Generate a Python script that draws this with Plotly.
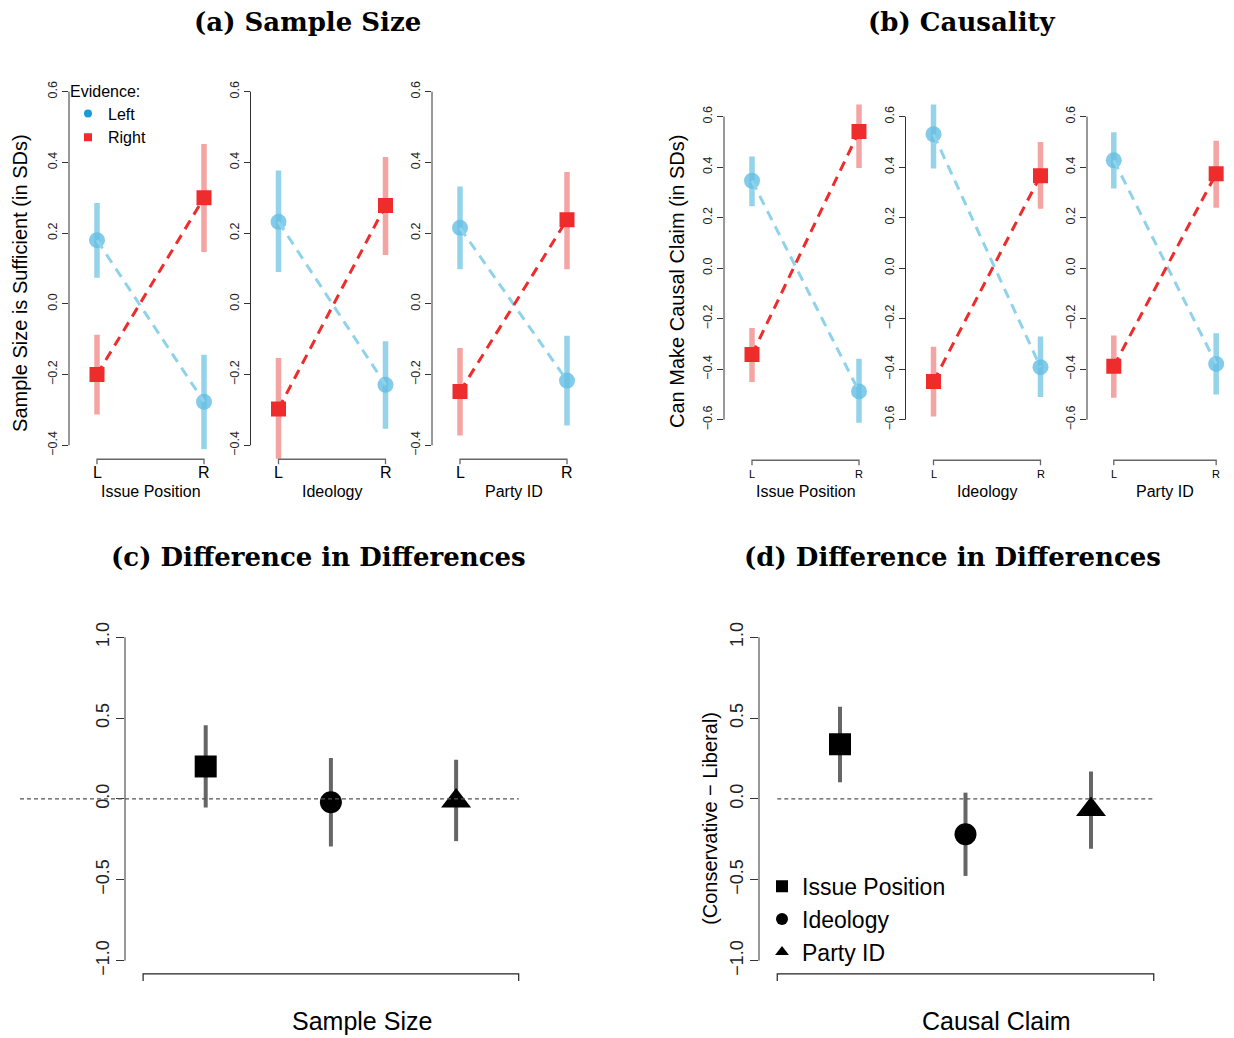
import plotly.graph_objects as go

W, H = 1234, 1038
OFF = 8  # the page places the figure 8px from the top-left corner
FONT = "Liberation Sans, Arial, Helvetica, sans-serif"
SERIF = "DejaVu Serif, serif"

# ---------------- data ----------------
measures = ["Issue Position", "Ideology", "Party ID"]
side_labels = ["L", "R"]
side_pos = [1, 2]

# (a) Sample size is sufficient  -- [L, R] per measure
ss_left_est = [[0.180, -0.277], [0.232, -0.229], [0.215, -0.217]]
ss_left_lo = [[0.074, -0.411], [0.090, -0.353], [0.098, -0.344]]
ss_left_hi = [[0.285, -0.144], [0.377, -0.106], [0.332, -0.090]]
ss_right_est = [[-0.200, 0.300], [-0.297, 0.278], [-0.248, 0.238]]
ss_right_lo = [[-0.313, 0.147], [-0.438, 0.138], [-0.372, 0.098]]
ss_right_hi = [[-0.087, 0.452], [-0.153, 0.415], [-0.125, 0.373]]

# (b) Can make causal claim
cc_left_est = [[0.346, -0.488], [0.530, -0.392], [0.427, -0.379]]
cc_left_lo = [[0.245, -0.612], [0.394, -0.510], [0.315, -0.500]]
cc_left_hi = [[0.442, -0.359], [0.662, -0.271], [0.538, -0.258]]
cc_right_est = [[-0.342, 0.541], [-0.449, 0.366], [-0.388, 0.374]]
cc_right_lo = [[-0.451, 0.396], [-0.587, 0.235], [-0.513, 0.239]]
cc_right_hi = [[-0.237, 0.683], [-0.311, 0.499], [-0.267, 0.504]]

# (c), (d) difference in differences, one value per measure
dd_pos = [1, 2, 3]
dd_ss_est = [0.201, -0.021, -0.012]
dd_ss_lo = [-0.053, -0.294, -0.261]
dd_ss_hi = [0.456, 0.253, 0.242]
dd_cc_est = [0.339, -0.218, -0.066]
dd_cc_lo = [0.103, -0.476, -0.308]
dd_cc_hi = [0.571, 0.039, 0.170]

ticks_a = [-0.4, -0.2, 0.0, 0.2, 0.4, 0.6]
ticks_b = [-0.6, -0.4, -0.2, 0.0, 0.2, 0.4, 0.6]
ticks_dd = [-1.0, -0.5, 0.0, 0.5, 1.0]

# ---------------- styles ----------------
BLUE_CI = "#95D3EA"
BLUE_PT = "rgba(100,190,226,0.8)"
BLUE_LN = "#8FD3EB"
RED_CI = "#F5A4A4"
RED_PT = "#EE2C2C"
RED_LN = "#EE2C2C"
GREY_CI = "#666666"
AXIS_C = "#333333"


def pv(p, v1, p1, v2, p2):
    return v1 + (p - p1) * (v2 - v1) / (p2 - p1)


def pxp(p):
    return min(max((p - OFF) / W, 0.0), 1.0)


def py(p):
    return min(max(1 - (p - OFF) / H, 0.0), 1.0)


def xd(l, r):
    return [pxp(l), pxp(r)]


def yd(t, b):
    return [py(b), py(t)]


fig = go.Figure()
layout = dict(
    width=W, height=H, margin=dict(l=0, r=0, t=0, b=0),
    paper_bgcolor="white", plot_bgcolor="white",
    font=dict(family=FONT, color="black"), showlegend=True,
)
shapes = []
annotations = []


def names(k):
    s = "" if k == 1 else str(k)
    return "x" + s, "y" + s, "xaxis" + s, "yaxis" + s


top_panels = [
    dict(data=(ss_left_est, ss_left_lo, ss_left_hi, ss_right_est, ss_right_lo, ss_right_hi),
         axes_px=[69, 250.5, 432], top=76, bot=459, hi=(0.6, 90), lo=(-0.4, 445),
         ticks=ticks_a, brk=459, lab_y=472, lab_size=16, title_y=491),
    dict(data=(cc_left_est, cc_left_lo, cc_left_hi, cc_right_est, cc_right_lo, cc_right_hi),
         axes_px=[724, 905.5, 1087], top=102.8, bot=460, hi=(0.6, 115), lo=(-0.6, 419.3),
         ticks=ticks_b, brk=460, lab_y=473.5, lab_size=11, title_y=491),
]

k = 0
for pan in top_panels:
    le, ll, lh, re_, rl, rh = pan["data"]
    for i in range(3):
        k += 1
        xn, yn, xa, ya = names(k)
        ax = pan["axes_px"][i]
        pL, pR = ax + 28, ax + 135
        right = ax + 162
        xr = [pv(ax, 1, pL, 2, pR), pv(right, 1, pL, 2, pR)]
        (vh, ph), (vl, pl) = pan["hi"], pan["lo"]
        yr = [pv(pan["bot"], vh, ph, vl, pl), pv(pan["top"], vh, ph, vl, pl)]
        layout[xa] = dict(domain=xd(ax, right), range=xr, anchor=yn, showgrid=False,
                          zeroline=False, showline=False, showticklabels=False, ticks="",
                          fixedrange=True)
        layout[ya] = dict(domain=yd(pan["top"], pan["bot"]), range=yr, anchor=xn,
                          tickvals=pan["ticks"], tickformat=".1f", tickangle=-90,
                          ticks="outside", ticklen=6, tickwidth=1, tickcolor=AXIS_C,
                          tickfont=dict(size=12.5, color="#222"), showgrid=False,
                          zeroline=False, showline=False, fixedrange=True)
        # y axis line (tick range only)
        shapes.append(dict(type="line", xref="paper", yref=yn, x0=pxp(ax), x1=pxp(ax),
                           y0=min(pan["ticks"]), y1=max(pan["ticks"]),
                           line=dict(color=AXIS_C, width=1)))
        # x bracket
        yb, yb2 = py(pan["brk"]), py(pan["brk"] + 5)
        shapes.append(dict(type="path", xref=xn, yref="paper",
                           path=f"M {side_pos[0]},{yb2} L {side_pos[0]},{yb} L {side_pos[1]},{yb} L {side_pos[1]},{yb2}",
                           line=dict(color="#666666", width=1.3)))
        for sp, sl in zip(side_pos, side_labels):
            annotations.append(dict(xref=xn, yref="paper", x=sp, y=py(pan["lab_y"]), text=sl,
                                    showarrow=False, font=dict(size=pan["lab_size"]),
                                    xanchor="center", yanchor="middle"))
        annotations.append(dict(xref=xn, yref="paper", x=sum(side_pos) / 2, y=py(pan["title_y"]),
                                text=measures[i], showarrow=False, font=dict(size=16),
                                xanchor="center", yanchor="middle"))
        # CIs
        for lo_, hi_, col in [(ll, lh, BLUE_CI), (rl, rh, RED_CI)]:
            fig.add_trace(go.Scatter(
                x=[side_pos[0], side_pos[0], None, side_pos[1], side_pos[1]],
                y=[lo_[i][0], hi_[i][0], None, lo_[i][1], hi_[i][1]],
                mode="lines", line=dict(color=col, width=5.5), xaxis=xn, yaxis=yn,
                showlegend=False, hoverinfo="skip"))
        fig.add_trace(go.Scatter(x=side_pos, y=le[i], mode="markers",
                                 marker=dict(symbol="circle", size=16, color=BLUE_PT),
                                 xaxis=xn, yaxis=yn, showlegend=False, hoverinfo="skip"))
        fig.add_trace(go.Scatter(x=side_pos, y=re_[i], mode="markers",
                                 marker=dict(symbol="square", size=15, color=RED_PT),
                                 xaxis=xn, yaxis=yn, showlegend=False, hoverinfo="skip"))
        fig.add_trace(go.Scatter(x=side_pos, y=le[i], mode="lines",
                                 line=dict(color=BLUE_LN, width=3, dash="10px,7px"),
                                 xaxis=xn, yaxis=yn, showlegend=False, hoverinfo="skip"))
        fig.add_trace(go.Scatter(x=side_pos, y=re_[i], mode="lines",
                                 line=dict(color=RED_LN, width=3, dash="10px,7px"),
                                 xaxis=xn, yaxis=yn, showlegend=False, hoverinfo="skip"))

# legend entries for (a)
fig.add_trace(go.Scatter(x=[None], y=[None], mode="markers", name="Left",
                         marker=dict(symbol="circle", size=8, color="#1A9BD7"),
                         xaxis="x", yaxis="y", legend="legend"))
fig.add_trace(go.Scatter(x=[None], y=[None], mode="markers", name="Right",
                         marker=dict(symbol="square", size=8, color="#EE2C2C"),
                         xaxis="x", yaxis="y", legend="legend"))

# ---------------- bottom panels ----------------
bottom_panels = [
    dict(est=dd_ss_est, lo=dd_ss_lo, hi=dd_ss_hi, ax=125, p1=205.7, p2=330.9,
         xtitle="Sample Size", xt_x=362, dot=(20, 518.8), legend=False),
    dict(est=dd_cc_est, lo=dd_cc_lo, hi=dd_cc_hi, ax=759, p1=840, p2=965.5,
         xtitle="Causal Claim", xt_x=996, dot=(777.3, 1153), legend=True),
]
symbols = ["square", "circle", "triangle-up"]
sym_sizes = [22, 22, 26]
for pan in bottom_panels:
    k += 1
    xn, yn, xa, ya = names(k)
    ax = pan["ax"]
    right = pan["p1"] + 2.62 * (pan["p2"] - pan["p1"])
    xr = [pv(ax, 1, pan["p1"], 2, pan["p2"]), pv(right, 1, pan["p1"], 2, pan["p2"])]
    top, bot = 624.7, 975.7
    yr = [pv(bot, 1.0, 637.7, -1.0, 962.3), pv(top, 1.0, 637.7, -1.0, 962.3)]
    layout[xa] = dict(domain=xd(ax, right), range=xr, anchor=yn, showgrid=False,
                      zeroline=False, showline=False, showticklabels=False, ticks="",
                      fixedrange=True)
    layout[ya] = dict(domain=yd(top, bot), range=yr, anchor=xn, tickvals=ticks_dd,
                      tickformat=".1f", tickangle=-90, ticks="outside", ticklen=8,
                      tickwidth=1, tickcolor=AXIS_C, tickfont=dict(size=18, color="#222"),
                      showgrid=False, zeroline=False, showline=False, fixedrange=True)
    shapes.append(dict(type="line", xref="paper", yref=yn, x0=pxp(ax), x1=pxp(ax),
                       y0=min(ticks_dd), y1=max(ticks_dd), line=dict(color=AXIS_C, width=1)))
    yb, yb2 = py(975.7), py(982.7)
    x_lo, x_hi = dd_pos[0] - 0.5, dd_pos[-1] + 0.5
    shapes.append(dict(type="path", xref=xn, yref="paper",
                       path=f"M {x_lo},{yb2} L {x_lo},{yb} L {x_hi},{yb} L {x_hi},{yb2}",
                       line=dict(color="#222222", width=1.2)))
    # dotted zero line
    shapes.append(dict(type="line", xref="paper", yref=yn, x0=pxp(pan["dot"][0]),
                       x1=pxp(pan["dot"][1]), y0=0, y1=0,
                       line=dict(color="#555555", width=1.3, dash="4px,3px")))
    annotations.append(dict(xref="paper", yref="paper", x=pxp(pan["xt_x"]), y=py(1023),
                            text=pan["xtitle"], showarrow=False, font=dict(size=25),
                            xanchor="center", yanchor="middle"))
    # CIs
    xs, ys = [], []
    for j in range(3):
        xs += [dd_pos[j], dd_pos[j], None]
        ys += [pan["lo"][j], pan["hi"][j], None]
    fig.add_trace(go.Scatter(x=xs, y=ys, mode="lines", line=dict(color=GREY_CI, width=4),
                             xaxis=xn, yaxis=yn, showlegend=False, hoverinfo="skip"))
    for j in range(3):
        fig.add_trace(go.Scatter(x=[dd_pos[j]], y=[pan["est"][j]], mode="markers",
                                 name=measures[j],
                                 marker=dict(symbol=symbols[j], size=sym_sizes[j], color="black"),
                                 xaxis=xn, yaxis=yn, showlegend=pan["legend"],
                                 legend="legend2", hoverinfo="skip"))

layout["legend"] = dict(x=pxp(68), y=py(74), xanchor="left", yanchor="top",
                        title=dict(text="Evidence:", font=dict(size=16)),
                        font=dict(size=16), itemsizing="trace", bgcolor="rgba(0,0,0,0)",
                        borderwidth=0, tracegroupgap=0)
layout["legend2"] = dict(x=pxp(762), y=py(866), xanchor="left", yanchor="top",
                         font=dict(size=23), itemsizing="constant",
                         bgcolor="rgba(0,0,0,0)", borderwidth=0, tracegroupgap=0)

# titles
for txt, cx, cy in [("(a) Sample Size", 307, 20), ("(b) Causality", 962, 20),
                    ("(c) Difference in Differences", 318, 557),
                    ("(d) Difference in Differences", 952, 557)]:
    annotations.append(dict(xref="paper", yref="paper", x=pxp(cx), y=py(cy), text=f"<b>{txt}</b>",
                            showarrow=False, font=dict(family=SERIF, size=26),
                            xanchor="center", yanchor="middle"))

# y-axis titles
for txt, cx, cy in [("Sample Size is Sufficient (in SDs)", 20, 282),
                    ("Can Make Causal Claim (in SDs)", 677, 281),
                    ("(Conservative \u2212 Liberal)", 710, 820)]:
    annotations.append(dict(xref="paper", yref="paper", x=pxp(cx), y=py(cy), text=txt,
                            textangle=-90, showarrow=False, font=dict(size=20),
                            xanchor="center", yanchor="middle"))

layout["shapes"] = shapes
layout["annotations"] = annotations
fig.update_layout(**layout)
fig.write_html("out.html")
